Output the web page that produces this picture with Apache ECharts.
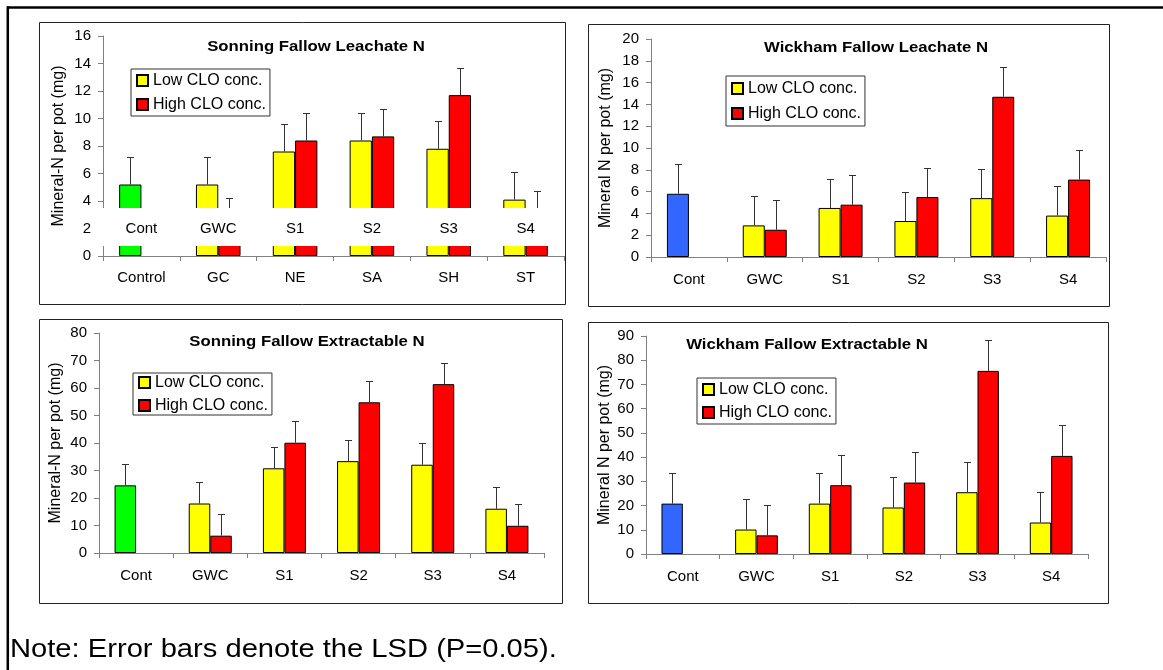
<!DOCTYPE html>
<html>
<head>
<meta charset="utf-8">
<script src="https://cdn.jsdelivr.net/npm/echarts@6/dist/echarts.min.js"></script>
<style>
  html, body { margin: 0; padding: 0; background: #fff; }
  #chart { width: 1163px; height: 670px; }
</style>
</head>
<body>
<div id="chart"></div>
<script>
const FONT = '"Liberation Sans", Arial, Helvetica, sans-serif';
const seriesNames = ['Low CLO conc.', 'High CLO conc.'];
const siteLabels = ['Cont', 'GWC', 'S1', 'S2', 'S3', 'S4'];

// Sonning fallow, leachate N (mg per pot)
const sonLeachCats = ['Control', 'GC', 'NE', 'SA', 'SH', 'ST'];
const sonLeachLow  = [5.2, 5.2, 7.6, 8.4, 7.8, 4.1];
const sonLeachHigh = [null, 2.2, 8.4, 8.7, 11.7, 2.7];

// Wickham fallow, leachate N
const wicLeachCats = siteLabels;
const wicLeachLow  = [5.8, 2.9, 4.5, 3.3, 5.4, 3.8];
const wicLeachHigh = [null, 2.5, 4.8, 5.5, 14.7, 7.1];

// Sonning fallow, extractable N
const sonExtCats = siteLabels;
const sonExtLow  = [24.6, 18.0, 30.8, 33.4, 32.1, 16.1];
const sonExtHigh = [null, 6.3, 40.1, 54.8, 61.4, 9.9];

// Wickham fallow, extractable N
const wicExtCats = siteLabels;
const wicExtLow  = [20.8, 10.1, 20.8, 19.2, 25.5, 13.0];
const wicExtHigh = [null, 7.7, 28.4, 29.5, 75.6, 40.5];

// LSD (P=0.05) per panel, drawn as one-sided error bars
const lsdValues = [2.0, 2.7, 7.8, 12.6];
const panelTitles = ['Sonning Fallow Leachate N', 'Wickham Fallow Leachate N',
                     'Sonning Fallow Extractable N', 'Wickham Fallow Extractable N'];
const axisNames = ['Mineral-N per pot (mg)', 'Mineral N per pot (mg)',
                   'Mineral-N per pot (mg)', 'Mineral N per pot (mg)'];
const yMaxes = [16, 20, 80, 90];
const ySteps = [2, 2, 10, 10];
const controlColors = ['#00FF00', '#3366FF', '#00FF00', '#3366FF'];

const panelData = [
  { cats: sonLeachCats, low: sonLeachLow, high: sonLeachHigh },
  { cats: wicLeachCats, low: wicLeachLow, high: wicLeachHigh },
  { cats: sonExtCats,   low: sonExtLow,   high: sonExtHigh },
  { cats: wicExtCats,   low: wicExtLow,   high: wicExtHigh }
];

// ---- layout ----
const BAR_FRAC = 0.29;
const layout = [
  { grid: { left: 103, top: 36, width: 461, height: 220 }, box: [39, 22, 526, 282],
    title: [316, 47], legend: { left: 131, top: 69, gap: 7, pad: [3, 4, 3, 5] }, nameGap: 36, labelMargin: 14 },
  { grid: { left: 651, top: 39, width: 455, height: 218 }, box: [588, 24, 521, 282],
    title: [876, 48], legend: { left: 726, top: 76, gap: 8, pad: [4, 4, 4, 5] }, nameGap: 37, labelMargin: 15 },
  { grid: { left: 99, top: 333, width: 445, height: 220 }, box: [39, 319, 523, 284],
    title: [307, 342], legend: { left: 133, top: 373, gap: 6, pad: [1, 4, 1, 5] }, nameGap: 35, labelMargin: 15 },
  { grid: { left: 646, top: 336, width: 442, height: 218 }, box: [588, 322, 520, 281],
    title: [807, 345], legend: { left: 697, top: 378, gap: 6, pad: [3, 4, 3, 5] }, nameGap: 33, labelMargin: 15 }
];
// white strip across the first panel carrying the site codes
const BAND_RANGE = [0.73, 3.5];
const BAND_LABEL_Y = 2;

const AXIS_COLOR = '#808080';
const ERR_COLOR = '#333333';

function renderErr(params, api) {
  const cat = api.value(0), v = api.value(1), e = api.value(2), side = api.value(3);
  const bw = api.size([1, 0])[0];
  const base = api.coord([cat, v]);
  const top = api.coord([cat, v + e]);
  const x = Math.round(base[0] + side * bw * BAR_FRAC / 2) + 0.5;
  const yt = Math.round(top[1]) + 0.5;
  return {
    type: 'group',
    children: [
      { type: 'line', shape: { x1: x, y1: base[1], x2: x, y2: yt }, style: { stroke: ERR_COLOR, lineWidth: 1 } },
      { type: 'line', shape: { x1: x - 3.5, y1: yt, x2: x + 3.5, y2: yt }, style: { stroke: ERR_COLOR, lineWidth: 1 } }
    ]
  };
}

const grids = [], xAxes = [], yAxes = [], series = [], legends = [];
panelData.forEach((p, i) => {
  const L = layout[i];
  grids.push(Object.assign({ containLabel: false }, L.grid));
  xAxes.push({
    type: 'category', gridIndex: i, data: p.cats, boundaryGap: true,
    axisLine: { lineStyle: { color: AXIS_COLOR, width: 1 } },
    axisTick: { show: true, length: 5, alignWithLabel: false, lineStyle: { color: AXIS_COLOR } },
    axisLabel: { interval: 0, margin: L.labelMargin, color: '#000', fontSize: 15, fontFamily: FONT },
    splitLine: { show: false }
  });
  yAxes.push({
    type: 'value', gridIndex: i, min: 0, max: yMaxes[i], interval: ySteps[i],
    name: axisNames[i], nameLocation: 'middle', nameGap: L.nameGap,
    nameTextStyle: { color: '#000', fontSize: 16, fontFamily: FONT },
    axisLine: { show: true, lineStyle: { color: AXIS_COLOR, width: 1 } },
    axisTick: { show: true, length: 5, lineStyle: { color: AXIS_COLOR } },
    axisLabel: { margin: 12, color: '#000', fontSize: 15, fontFamily: FONT },
    splitLine: { show: false }
  });
  series.push({
    type: 'bar', name: seriesNames[0], xAxisIndex: i, yAxisIndex: i,
    barWidth: (BAR_FRAC * 100) + '%', barGap: '0%', z: 2,
    itemStyle: { color: '#FFFF00', borderColor: '#000', borderWidth: 1 },
    data: p.low.map((v, k) => k === 0 ? { value: v, itemStyle: { color: controlColors[i] } } : v)
  });
  series.push({
    type: 'bar', name: seriesNames[1], xAxisIndex: i, yAxisIndex: i,
    barWidth: (BAR_FRAC * 100) + '%', barGap: '0%', z: 2,
    itemStyle: { color: '#FF0000', borderColor: '#000', borderWidth: 1 },
    data: p.high.map(v => v == null ? '-' : v)
  });
  const errData = [];
  p.low.forEach((v, k) => { if (v != null) errData.push([k, v, lsdValues[i], -1]); });
  p.high.forEach((v, k) => { if (v != null) errData.push([k, v, lsdValues[i], 1]); });
  series.push({
    type: 'custom', xAxisIndex: i, yAxisIndex: i, z: 3, silent: true,
    renderItem: renderErr, data: errData, clip: false
  });
  legends.push({
    orient: 'vertical', left: L.legend.left, top: L.legend.top,
    data: seriesNames, icon: 'rect', itemWidth: 11, itemHeight: 11,
    itemGap: L.legend.gap, padding: L.legend.pad, selectedMode: false,
    backgroundColor: '#fff', borderColor: '#333', borderWidth: 1,
    textStyle: { color: '#000', fontSize: 16, lineHeight: 17, fontFamily: FONT }
  });
});

const chart = echarts.init(document.getElementById('chart'), null, { renderer: 'canvas' });
chart.setOption({
  animation: false,
  backgroundColor: '#fff',
  grid: grids, xAxis: xAxes, yAxis: yAxes, legend: legends, series: series
});

// frames, titles, note and the site-code strip of the first panel
const graphics = [
  { type: 'line', z: 0, shape: { x1: 7, y1: 7.5, x2: 1163, y2: 7.5 }, style: { stroke: '#000', lineWidth: 2.5 } },
  { type: 'line', z: 0, shape: { x1: 7.8, y1: 6.3, x2: 7.8, y2: 670 }, style: { stroke: '#000', lineWidth: 2.5 } }
];
layout.forEach((L, i) => {
  const [bx, by, bw, bh] = L.box;
  graphics.push({ type: 'rect', z: 0, shape: { x: bx + 0.5, y: by + 0.5, width: bw, height: bh },
                  style: { fill: 'none', stroke: '#222', lineWidth: 1 } });
  graphics.push({ type: 'text', z: 10, x: L.title[0], y: L.title[1], scaleX: 1.08,
                  style: { text: panelTitles[i], fontSize: 15.5, fontWeight: 'bold', fontFamily: FONT, fill: '#000',
                           align: 'center', verticalAlign: 'middle', textAlign: 'center', textVerticalAlign: 'middle' } });
});
graphics.push({ type: 'text', z: 10, x: 10, y: 650, scaleX: 1.1,
                style: { text: 'Note: Error bars denote the LSD (P=0.05).', fontSize: 26.5, fontFamily: FONT, fill: '#000',
                         align: 'left', verticalAlign: 'middle', textAlign: 'left', textVerticalAlign: 'middle' } });

const bandTop = chart.convertToPixel({ yAxisIndex: 0 }, BAND_RANGE[1]);
const bandBot = chart.convertToPixel({ yAxisIndex: 0 }, BAND_RANGE[0]);
const g0 = layout[0].grid;
graphics.push({ type: 'rect', z: 50, shape: { x: g0.left - 7, y: bandTop, width: g0.width + 7, height: bandBot - bandTop },
                style: { fill: '#fff' } });
siteLabels.forEach((s, k) => {
  const pt = chart.convertToPixel({ gridIndex: 0 }, [k, BAND_LABEL_Y]);
  graphics.push({ type: 'text', z: 51, x: pt[0], y: pt[1],
                  style: { text: s, fontSize: 15, fontFamily: FONT, fill: '#000',
                           align: 'center', verticalAlign: 'middle', textAlign: 'center', textVerticalAlign: 'middle' } });
});
chart.setOption({ graphic: graphics });
</script>
</body>
</html>
